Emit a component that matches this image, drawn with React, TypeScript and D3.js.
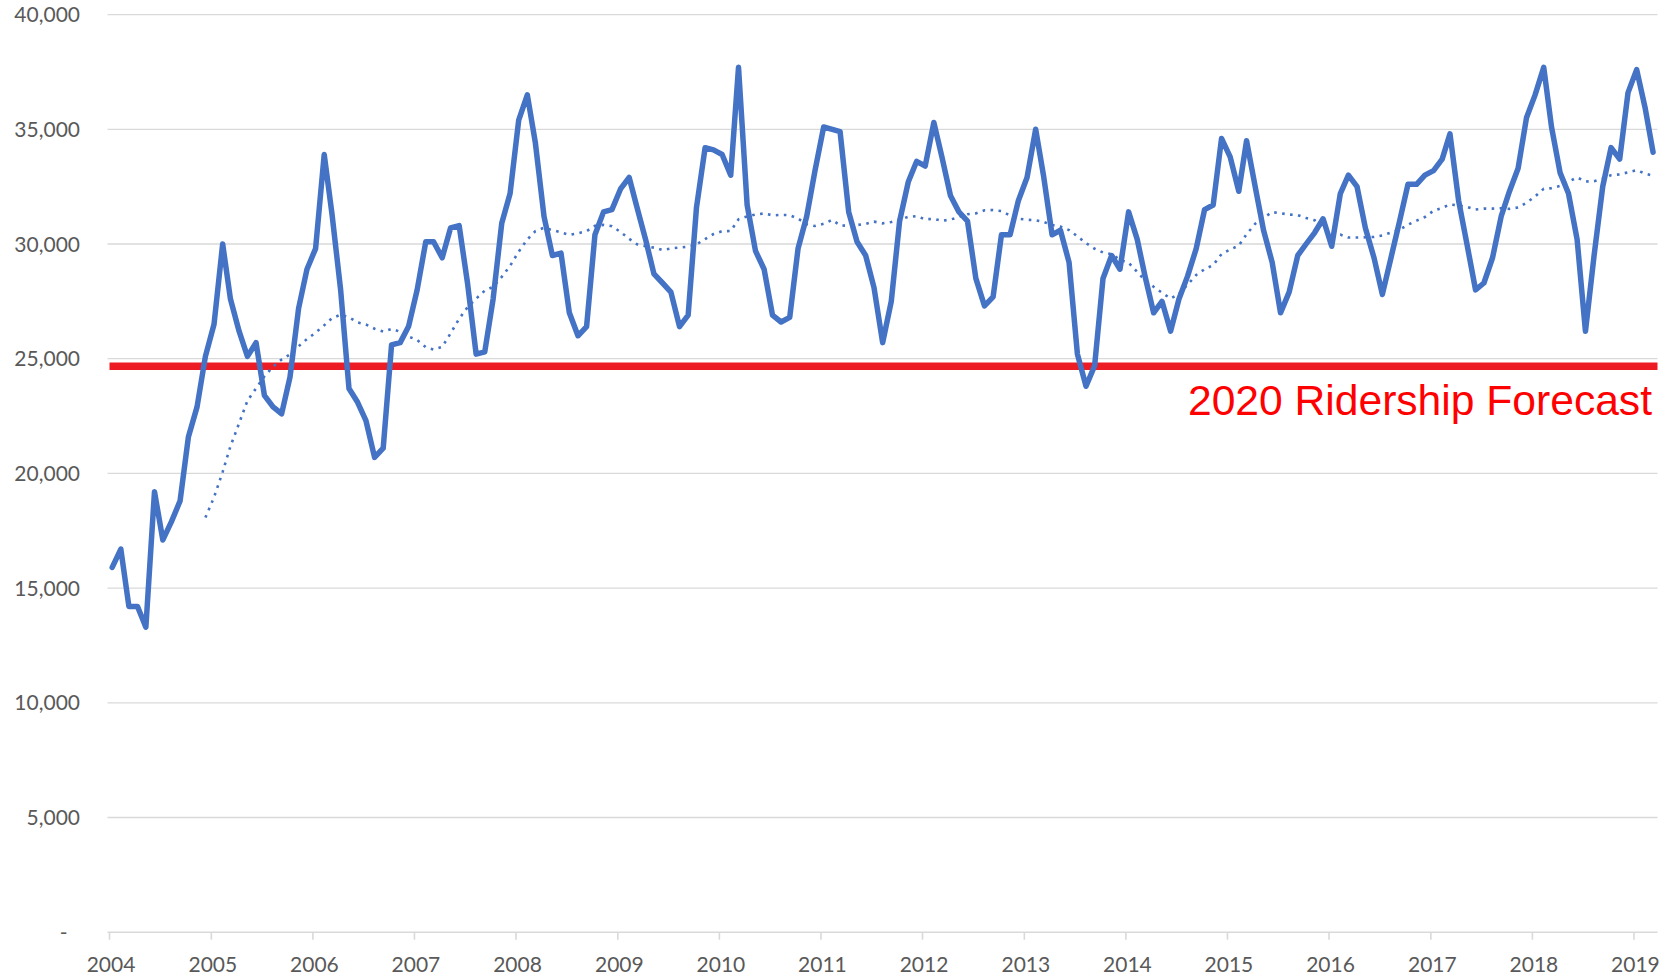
import { useEffect } from "react";
import * as d3 from "d3";

// monthly ridership, Jan 2004 - Mar 2019
const START = new Date(2004, 0, 1);
const RIDERSHIP: number[] = [
  // 2004
  15900, 16700, 14200, 14200, 13300, 19200, 17100, 17900, 18800, 21600, 22900, 25100,
  // 2005
  26500, 30000, 27600, 26200, 25100, 25700, 23400, 22900, 22600, 24200, 27200, 28900,
  // 2006
  29800, 33900, 31300, 28000, 23700, 23100, 22300, 20700, 21100, 25600, 25700, 26400,
  // 2007
  28000, 30100, 30100, 29400, 30700, 30800, 28300, 25200, 25300, 27600, 30900, 32200,
  // 2008
  35400, 36500, 34400, 31200, 29500, 29600, 27000, 26000, 26400, 30400, 31400, 31500,
  // 2009
  32400, 32900, 31600, 30200, 28700, 28300, 27900, 26400, 26900, 31600, 34200, 34100,
  // 2010
  33900, 33000, 37700, 31700, 29700, 28900, 26900, 26600, 26800, 29800, 31200, 33200,
  // 2011
  35100, 35000, 34900, 31400, 30100, 29500, 28100, 25700, 27500, 31000, 32700, 33600,
  // 2012
  33400, 35300, 33800, 32100, 31400, 31000, 28500, 27300, 27700, 30400, 30400, 31900,
  // 2013
  32900, 35000, 33000, 30400, 30600, 29200, 25200, 23800, 24700, 28500, 29500, 28900,
  // 2014
  31400, 30200, 28600, 27000, 27500, 26200, 27600, 28600, 29800, 31500, 31700, 34600,
  // 2015
  33800, 32300, 34500, 32500, 30600, 29200, 27000, 27900, 29500, 30000, 30500, 31100,
  // 2016
  29900, 32200, 33000, 32500, 30700, 29400, 27800, 29400, 31000, 32600, 32600, 33000,
  // 2017
  33200, 33700, 34800, 31900, 30000, 28000, 28300, 29400, 31200, 32300, 33300, 35500,
  // 2018
  36500, 37700, 35100, 33100, 32200, 30200, 26200, 29500, 32500, 34200, 33700, 36600,
  // 2019
  37600, 35900, 34000,
];

const FORECAST = 24670;
const FORECAST_LABEL = "2020 Ridership Forecast";

const Y_TICKS = [0, 5000, 10000, 15000, 20000, 25000, 30000, 35000, 40000];
const X_TICKS = [
  2004, 2005, 2006, 2007, 2008, 2009, 2010, 2011, 2012, 2013, 2014, 2015, 2016, 2017,
  2018, 2019,
];

const MA_PERIOD = 12;

const W = 1677;
const H = 978;
const LEFT = 109.5;
const RIGHT = 1659;
const GRID_LEFT = 107.5;
const GRID_RIGHT = 1657.5;
const TOP = 14.6;
const BOTTOM = 932.2;
const POINT_SHIFT = 2.7; // excel draws the monthly points a little right of the year tick

const BLUE = "#4472C4";
const GRID = "#d9d9d9";
const LABEL = "#595959";
const FONT = "Lato, 'Open Sans', sans-serif";

export default function App() {
  useEffect(() => {
    document.body.style.margin = "0";
  }, []);

  const points = RIDERSHIP.map((v, i) => ({
    date: d3.timeMonth.offset(START, i),
    value: v,
  }));

  // Excel style 12 period moving average trendline
  const trend = points
    .map((p, i) =>
      i < MA_PERIOD - 1
        ? null
        : { date: p.date, value: d3.mean(RIDERSHIP.slice(i - MA_PERIOD + 1, i + 1)) as number }
    )
    .filter((d): d is { date: Date; value: number } => d !== null);

  const x = d3
    .scaleTime()
    .domain([START, new Date(2019, 3, 1)])
    .range([LEFT, RIGHT]);

  const y = d3.scaleLinear().domain([0, 40000]).range([BOTTOM, TOP]);

  const line = d3
    .line<{ date: Date; value: number }>()
    .x((d) => x(d.date) + POINT_SHIFT)
    .y((d) => y(d.value));

  const fmt = d3.format(",");

  return (
    <svg
      width={W}
      height={H}
      style={{ display: "block", position: "absolute", left: 0, top: 0, background: "#fff" }}
    >
      {/* gridlines */}
      {Y_TICKS.filter((t) => t > 0).map((t) => (
        <line
          key={t}
          x1={GRID_LEFT}
          x2={GRID_RIGHT}
          y1={y(t)}
          y2={y(t)}
          stroke={GRID}
          strokeWidth={1.3}
        />
      ))}

      {/* y labels */}
      {Y_TICKS.map((t) => (
        <text
          key={t}
          x={t === 0 ? 67.5 : 80}
          y={y(t)}
          dy="0.36em"
          textAnchor="end"
          fontFamily={FONT}
          fontSize={21}
          fill={LABEL}
        >
          {t === 0 ? "-" : fmt(t)}
        </text>
      ))}

      {/* x axis */}
      <line x1={GRID_LEFT} x2={GRID_RIGHT} y1={BOTTOM} y2={BOTTOM} stroke={GRID} strokeWidth={1.6} />
      {X_TICKS.map((yr) => {
        const px = x(new Date(yr, 0, 1));
        return (
          <g key={yr}>
            <line x1={px} x2={px} y1={BOTTOM} y2={BOTTOM + 7.5} stroke={GRID} strokeWidth={1.6} />
            <text
              x={px + 1.5}
              y={972}
              textAnchor="middle"
              fontFamily={FONT}
              fontSize={21}
              fill={LABEL}
            >
              {yr}
            </text>
          </g>
        );
      })}

      {/* forecast */}
      <line
        x1={x.range()[0]}
        x2={GRID_RIGHT}
        y1={y(FORECAST)}
        y2={y(FORECAST)}
        stroke="#ED1C24"
        strokeWidth={7.5}
      />
      <text
        x={1652}
        y={415}
        textAnchor="end"
        fontFamily="'Liberation Sans', Arial, sans-serif"
        fontSize={42.6}
        fill="#FF0000"
      >
        {FORECAST_LABEL}
      </text>

      {/* moving average */}
      <path
        d={line(trend) ?? ""}
        fill="none"
        stroke={BLUE}
        strokeWidth={2.6}
        strokeDasharray="2.6 5.4"
      />

      {/* ridership */}
      <path
        d={line(points) ?? ""}
        fill="none"
        stroke={BLUE}
        strokeWidth={5.5}
        strokeLinejoin="round"
        strokeLinecap="round"
      />
    </svg>
  );
}
